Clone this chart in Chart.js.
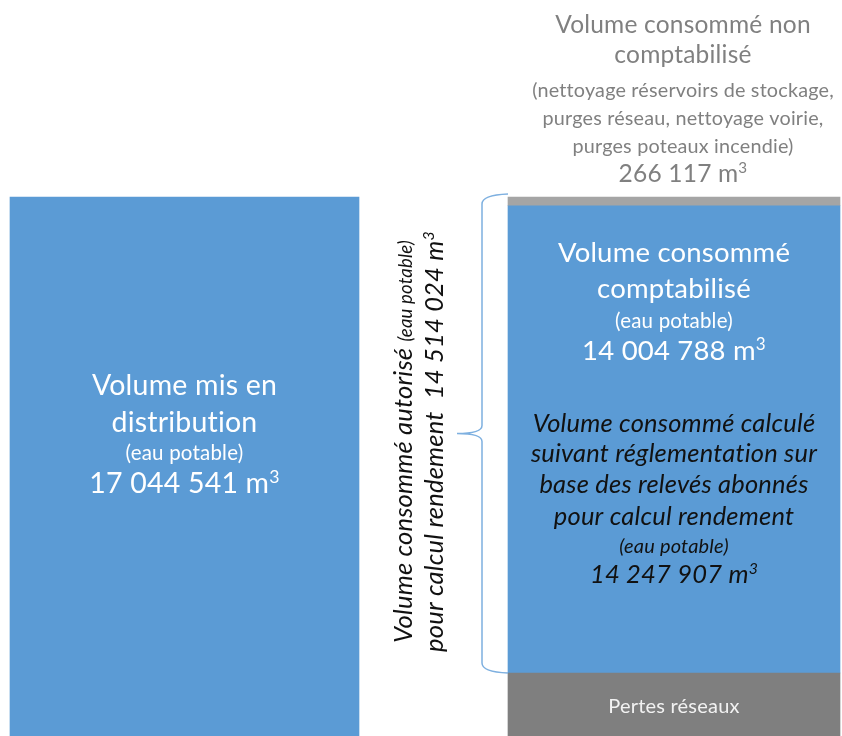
<!DOCTYPE html>
<html>
<head>
<meta charset="utf-8">
<script src="https://cdn.jsdelivr.net/npm/chart.js@4.4.1/dist/chart.umd.min.js"></script>
<style>
    html, body { margin: 0; padding: 0; background: #fff; overflow: hidden; }
    #wrap { width: 842px; height: 736px; position: relative; }
</style>
</head>
<body>
<div id="wrap"><canvas id="bilan"></canvas></div>
<script>
// ============================================
// DONNEES
// ============================================
const categories = ['Volume mis en distribution', 'Volume consommé'];
const volDistribution = [17044541, null];
const volPertes = [null, 2530517];
const volCalcule = [null, 14247907];
const volNonCompta = [null, 266117];

const volComptabilise = 14004788;
const volAutorise = 14514024;

const BLUE = '#5B9BD5';
const GREY_LIGHT = '#A5A5A5';
const GREY_DARK = '#7F7F7F';
const FONT = 'Lato, "Open Sans", sans-serif';

function fmt(n) {
    return String(n).replace(/\B(?=(\d{3})+(?!\d))/g, ' ');
}

// une ligne de texte avec plusieurs morceaux (taille, italique, exposant)
function drawLine(ctx, parts, cx, y, color) {
    let total = 0;
    if ('letterSpacing' in ctx) ctx.letterSpacing = '0.2px';
    parts.forEach(p => {
        const size = p.sup ? p.size * 0.62 : p.size;
        p.font = (p.italic ? 'italic ' : '') + size + 'px ' + FONT;
        ctx.font = p.font;
        p.w = ctx.measureText(p.t).width;
        total += p.w;
    });
    let x = cx - total / 2;
    ctx.fillStyle = color;
    ctx.textAlign = 'left';
    ctx.textBaseline = 'alphabetic';
    parts.forEach(p => {
        ctx.font = p.font;
        ctx.fillText(p.t, x, p.sup ? y - p.size * 0.36 : y);
        x += p.w;
    });
}

function m3(size, italic) {
    return [{ t: ' m', size, italic }, { t: '3', size, italic, sup: true }];
}

// ============================================
// ANNOTATIONS
// ============================================
const annotations = {
    id: 'annotations',
    afterDatasetsDraw(chart) {
        const ctx = chart.ctx;
        const left = chart.getDatasetMeta(0).data[0];
        const pertes = chart.getDatasetMeta(1).data[1];
        const nonCompta = chart.getDatasetMeta(3).data[1];
        const top = nonCompta.y;
        const rx = pertes.x;
        const rLeft = rx - pertes.width / 2;

        ctx.save();

        // barre gauche
        const lt = left.y;
        drawLine(ctx, [{ t: 'Volume mis en', size: 28.5 }], left.x, lt + 198, '#fff');
        drawLine(ctx, [{ t: 'distribution', size: 28.5 }], left.x, lt + 235, '#fff');
        drawLine(ctx, [{ t: '(eau potable)', size: 20.5 }], left.x, lt + 263, '#fff');
        drawLine(ctx, [{ t: fmt(volDistribution[0]), size: 28.5 }, ...m3(28.5)], left.x, lt + 296, '#fff');

        // au-dessus de la barre droite
        const gx = rx + 9;
        const grey = '#808080';
        drawLine(ctx, [{ t: 'Volume consommé non', size: 24.5 }], gx, top - 164, grey);
        drawLine(ctx, [{ t: 'comptabilisé', size: 24.5 }], gx, top - 134, grey);
        drawLine(ctx, [{ t: '(nettoyage réservoirs de stockage,', size: 19.8 }], gx, top - 100, grey);
        drawLine(ctx, [{ t: 'purges réseau, nettoyage voirie,', size: 19.8 }], gx, top - 72, grey);
        drawLine(ctx, [{ t: 'purges poteaux incendie)', size: 19.8 }], gx, top - 44, grey);
        drawLine(ctx, [{ t: fmt(volNonCompta[1]), size: 24.5 }, ...m3(24.5)], gx, top - 15, grey);

        // barre bleue droite
        drawLine(ctx, [{ t: 'Volume consommé', size: 27.5 }], rx, top + 65, '#fff');
        drawLine(ctx, [{ t: 'comptabilisé', size: 27.5 }], rx, top + 101, '#fff');
        drawLine(ctx, [{ t: '(eau potable)', size: 20.5 }], rx, top + 131, '#fff');
        drawLine(ctx, [{ t: fmt(volComptabilise), size: 27.5 }, ...m3(27.5)], rx, top + 163, '#fff');

        const ink = '#111';
        drawLine(ctx, [{ t: 'Volume consommé calculé', size: 25.5, italic: true }], rx, top + 235, ink);
        drawLine(ctx, [{ t: 'suivant réglementation sur', size: 25.5, italic: true }], rx, top + 265, ink);
        drawLine(ctx, [{ t: 'base des relevés abonnés', size: 25.5, italic: true }], rx, top + 296, ink);
        drawLine(ctx, [{ t: 'pour calcul rendement', size: 25.5, italic: true }], rx, top + 328, ink);
        drawLine(ctx, [{ t: '(eau potable)', size: 20, italic: true }], rx, top + 356, ink);
        drawLine(ctx, [{ t: fmt(volCalcule[1]), size: 25.5, italic: true }, ...m3(25.5, true)], rx, top + 386, ink);

        // pertes
        drawLine(ctx, [{ t: 'Pertes réseaux', size: 20 }], rx, pertes.y + 40, '#F2F2F2');

        // accolade
        const bTop = top - 3, bBot = pertes.y, mid = (bTop + bBot) / 2;
        const vx = rLeft - 26, tip = rLeft - 51;
        ctx.strokeStyle = '#7EB0E0';
        ctx.lineWidth = 1.5;
        ctx.beginPath();
        ctx.moveTo(rLeft, bTop);
        ctx.quadraticCurveTo(vx, bTop + 1, vx, bTop + 10);
        ctx.lineTo(vx, mid - 8);
        ctx.quadraticCurveTo(vx, mid, tip, mid);
        ctx.moveTo(tip, mid);
        ctx.quadraticCurveTo(vx, mid, vx, mid + 8);
        ctx.lineTo(vx, bBot - 10);
        ctx.quadraticCurveTo(vx, bBot - 1, rLeft, bBot);
        ctx.stroke();

        // texte vertical
        ctx.translate(rLeft - 81, mid + 8);
        ctx.rotate(-Math.PI / 2);
        drawLine(ctx, [
            { t: 'Volume consommé autorisé ', size: 25.5, italic: true },
            { t: '(eau potable)', size: 18.5, italic: true }
        ], 0, -15, ink);
        drawLine(ctx, [
            { t: 'pour calcul rendement  ' + fmt(volAutorise), size: 25.5, italic: true },
            ...m3(25.5, true)
        ], 0, 16, ink);

        ctx.restore();
    }
};

// ============================================
// GRAPHIQUE
// ============================================
new Chart(document.getElementById('bilan'), {
    type: 'bar',
    data: {
        labels: categories,
        datasets: [
            { label: 'Volume mis en distribution', data: volDistribution, backgroundColor: BLUE, barThickness: 349, clip: false },
            { label: 'Pertes réseaux', data: volPertes, backgroundColor: GREY_DARK, barThickness: 332, clip: false },
            { label: 'Volume consommé calculé', data: volCalcule, backgroundColor: BLUE, barThickness: 332, clip: false },
            { label: 'Volume consommé non comptabilisé', data: volNonCompta, backgroundColor: GREY_LIGHT, barThickness: 332, clip: false }
        ]
    },
    options: {
        responsive: true,
        maintainAspectRatio: false,
        animation: false,
        layout: { padding: { left: 184.5, right: 168, top: 0, bottom: 0 } },
        plugins: {
            legend: { display: false },
            tooltip: { enabled: false }
        },
        scales: {
            x: { display: false, stacked: true, offset: false },
            y: { display: false, stacked: true, min: 609546, max: 23051386 }
        }
    },
    plugins: [annotations]
});
</script>
</body>
</html>
